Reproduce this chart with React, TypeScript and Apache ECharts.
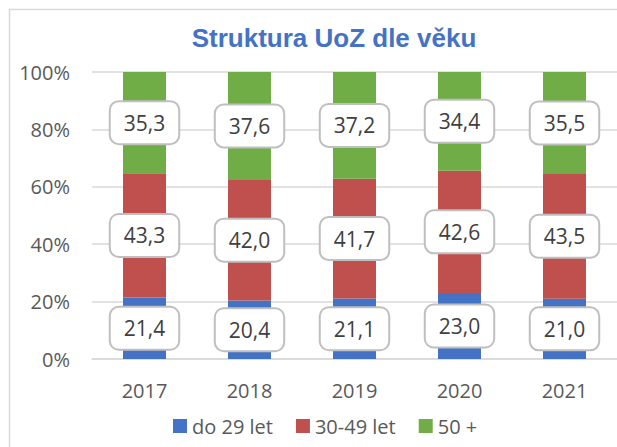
import React, { useEffect, useRef } from "react";
import * as echarts from "echarts";

const title = "Struktura UoZ dle věku";
const years = ["2017", "2018", "2019", "2020", "2021"];
const seriesNames = ["do 29 let", "30-49 let", "50 +"];
const under29 = [21.4, 20.4, 21.1, 23.0, 21.0];
const from30to49 = [43.3, 42.0, 41.7, 42.6, 43.5];
const over50 = [35.3, 37.6, 37.2, 34.4, 35.5];
const colors = ["#4472C4", "#C0504D", "#70AD47"];

export default function App() {
  const ref = useRef<HTMLDivElement>(null);
  useEffect(() => {
    if (!ref.current) return;
    const chart = echarts.init(ref.current, undefined, { renderer: "svg" });
    const font = "'Open Sans', 'Noto Sans', sans-serif";
    const label = {
      show: true,
      position: "inside",
      formatter: (p: any) => Number(p.value).toFixed(1).replace(".", ","),
      color: "#404040",
      fontFamily: font,
      fontSize: 21,
      lineHeight: 21,
      backgroundColor: "#ffffff",
      borderColor: "#bfbfbf",
      borderWidth: 2,
      borderRadius: 8,
      padding: [10, 13, 10, 13],
    };
    const datasets = [under29, from30to49, over50];
    chart.setOption({
      animation: false,
      title: {
        text: title,
        left: 329,
        top: 20,
        textAlign: "center",
        textStyle: {
          fontFamily: "'Liberation Sans', Arial, sans-serif",
          fontWeight: "bold",
          fontSize: 26,
          color: "#4472C4",
        },
      },
      graphic: [
        {
          type: "rect",
          shape: { x: 9.5, y: 9.5, width: 800, height: 600 },
          style: { fill: "none", stroke: "#d9d9d9", lineWidth: 1.5 },
          silent: true,
          z: -10,
        },
      ],
      legend: {
        left: 168,
        top: 411,
        itemWidth: 14,
        itemHeight: 14,
        itemGap: 23,
        icon: "rect",
        textStyle: { fontFamily: font, fontSize: 20, color: "#595959" },
        data: seriesNames,
      },
      grid: { left: 92, top: 72, width: 533, height: 287 },
      xAxis: {
        type: "category",
        data: years,
        axisLine: { lineStyle: { color: "#d9d9d9", width: 1.5 } },
        axisTick: { show: false },
        axisLabel: { fontFamily: font, fontSize: 20, color: "#595959", margin: 21 },
      },
      yAxis: {
        type: "value",
        min: 0,
        max: 100,
        interval: 20,
        axisLine: { show: false },
        axisTick: { show: false },
        splitLine: { lineStyle: { color: "#d9d9d9", width: 1.5 } },
        axisLabel: {
          fontFamily: font,
          fontSize: 20,
          color: "#595959",
          margin: 22,
          formatter: (v: number) => v + "%",
        },
      },
      series: seriesNames.map((name, i) => ({
        name,
        type: "bar",
        stack: "total",
        barWidth: 43,
        data: datasets[i],
        itemStyle: { color: colors[i] },
        label,
      })),
    });
    return () => chart.dispose();
  }, []);
  return (
    <div
      ref={ref}
      style={{ position: "fixed", left: 0, top: 0, width: 617, height: 447, background: "#fff" }}
    />
  );
}
